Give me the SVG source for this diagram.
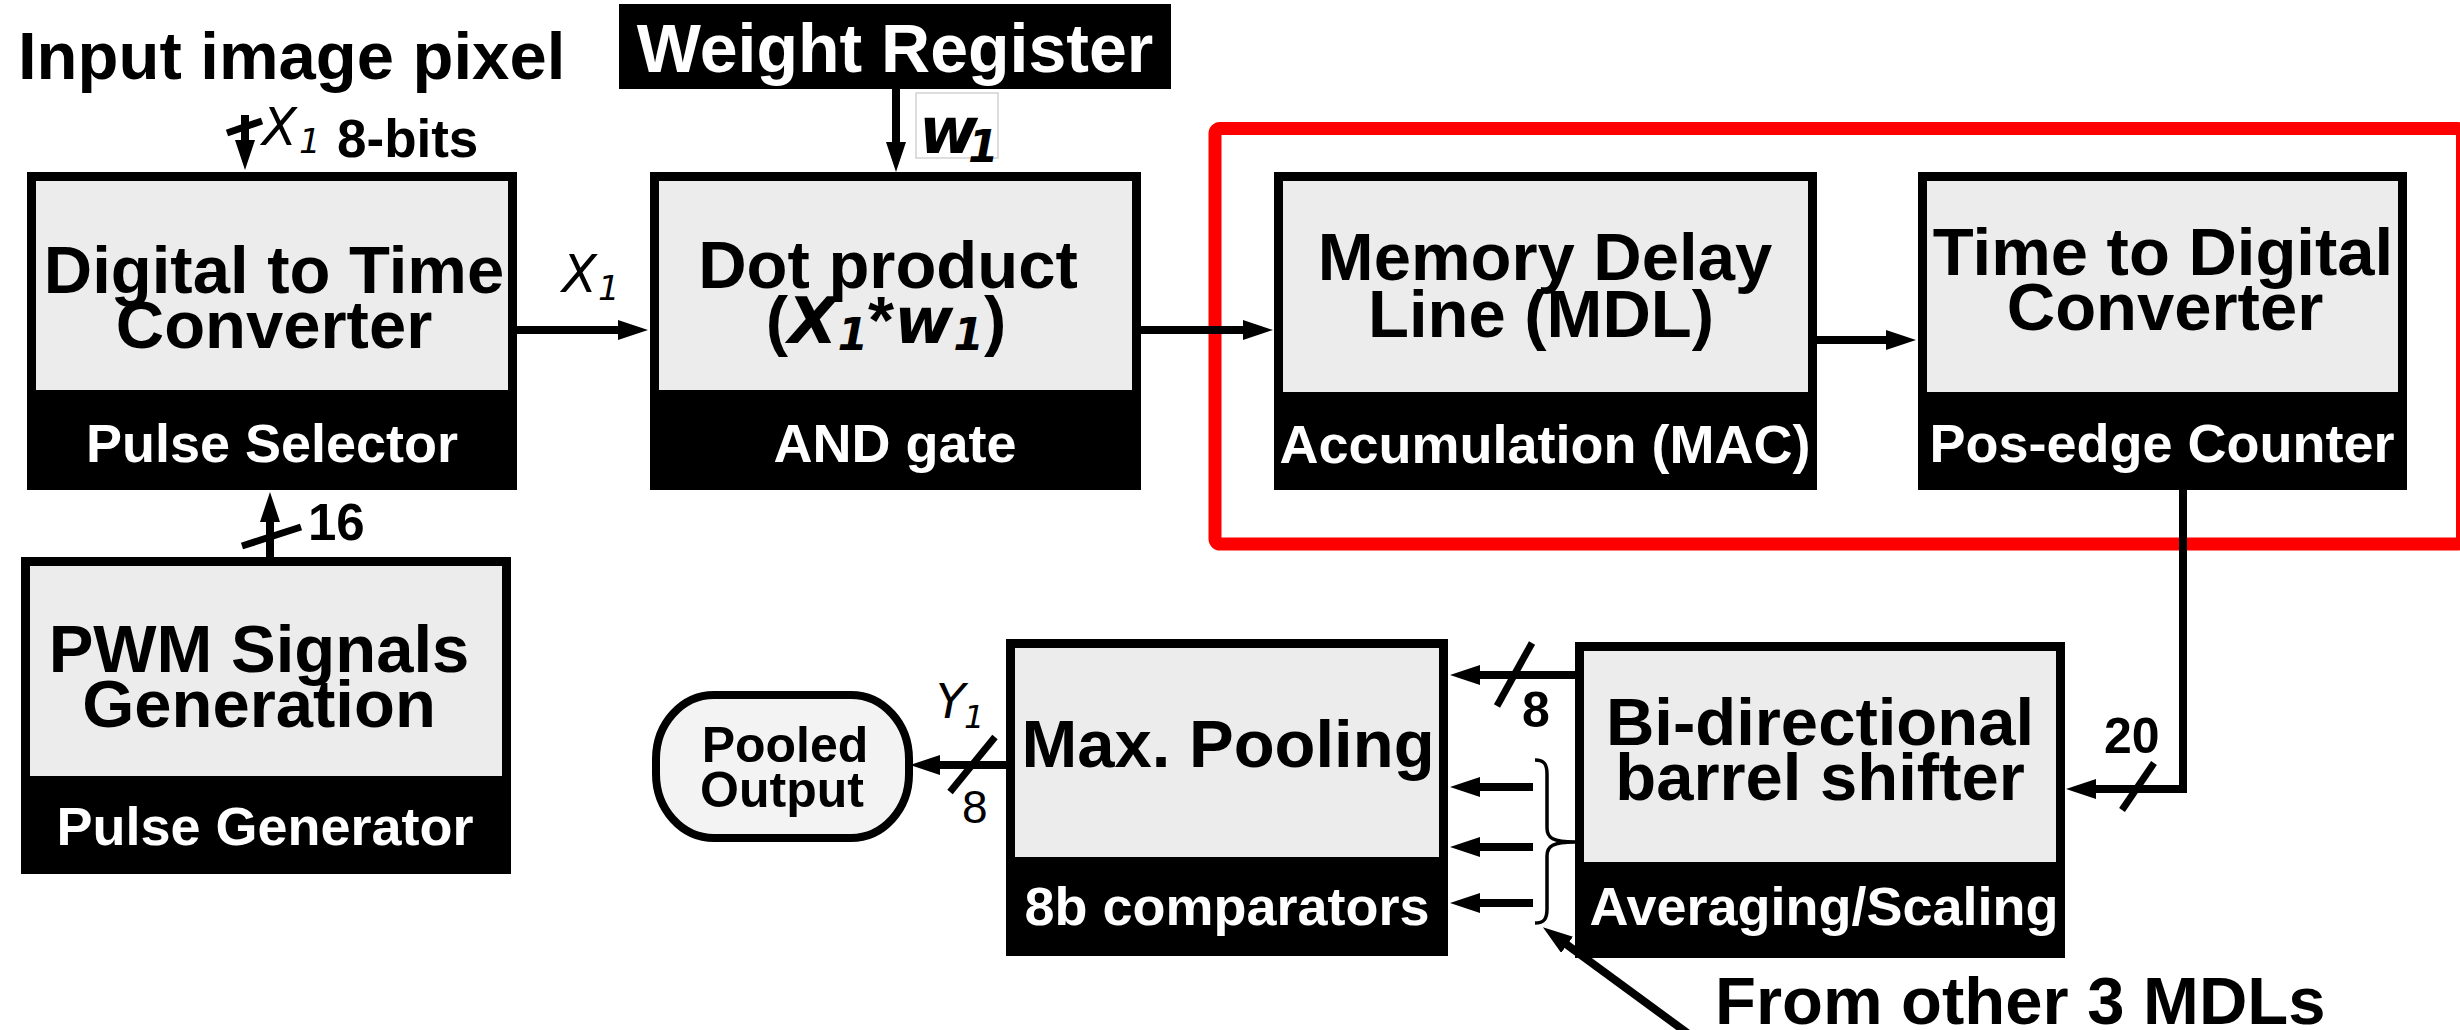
<svg xmlns="http://www.w3.org/2000/svg" width="2460" height="1030" viewBox="0 0 2460 1030">
  <style>
    .lbl { font-family: "Liberation Sans", Arial, sans-serif; font-weight: bold; }
    .c { text-anchor: middle; }
    .title { font-size: 67px; fill: #000; }
    .band { font-size: 54px; fill: #fff; }
    .var { font-family: "DejaVu Sans", sans-serif; font-style: oblique; }
    .frame { fill: #000; }
    .face { fill: #ececec; }
    .wire { stroke: #000; stroke-width: 8; fill: none; stroke-linejoin: miter; }
    .slash { stroke: #000; stroke-width: 7; fill: none; }
  </style>
  <defs>
    <marker id="ah" markerUnits="userSpaceOnUse" markerWidth="30" markerHeight="20" refX="15" refY="10" orient="auto" viewBox="0 0 30 20">
      <path d="M0,0 L30,10 L0,20 Z" fill="#000"/>
    </marker>
  </defs>
  <rect width="2460" height="1030" fill="#fff"/>

  <!-- free labels -->
  <text class="lbl title" x="18" y="79">Input image pixel</text>
  <text class="var" x="262" y="145" font-size="51">X</text>
  <text class="var" x="299" y="153" font-size="34">1</text>
  <text class="lbl" x="337" y="157" font-size="53">8-bits</text>
  <text class="var" x="562" y="292" font-size="51">X</text>
  <text class="var" x="598" y="300" font-size="34">1</text>
  <rect x="916" y="93" width="82" height="65" fill="none" stroke="#d2d2d2" stroke-width="1.5"/>
  <text class="var" x="919" y="153" font-size="64" font-weight="bold">w</text>
  <text class="var" x="968" y="162" font-size="44" font-weight="bold">1</text>
  <text class="lbl" x="308" y="540" font-size="51">16</text>
  <text class="lbl" x="2104" y="753" font-size="50">20</text>
  <text class="lbl" x="1522" y="727" font-size="50">8</text>
  <text class="var" x="936" y="718" font-size="48">Y</text>
  <text class="var" x="964" y="728" font-size="32">1</text>
  <text x="962" y="823" font-family="Liberation Sans, Arial, sans-serif" font-size="46">8</text>
  <text class="lbl title" x="1715" y="1024">From other 3 MDLs</text>

  <!-- accumulation stage outline -->
  <rect x="1215" y="128.5" width="1247.5" height="415.5" rx="5" fill="none" stroke="#ff0000" stroke-width="13"/>

  <g id="weight-register">
    <rect class="frame" x="619" y="4" width="552" height="85"/>
    <text class="lbl c" x="895" y="72" font-size="68" fill="#fff">Weight Register</text>
  </g>

  <g id="dtc">
    <rect class="frame" x="27" y="172" width="490" height="318"/>
    <rect class="face" x="36" y="181" width="472" height="209"/>
    <text class="lbl c title" x="274" y="293">Digital to Time</text>
    <text class="lbl c title" x="274" y="348">Converter</text>
    <text class="lbl c band" x="272" y="462">Pulse Selector</text>
  </g>

  <g id="dot-product">
    <rect class="frame" x="650" y="172" width="491" height="318"/>
    <rect class="face" x="659" y="181" width="473" height="209"/>
    <text class="lbl c title" x="888" y="288">Dot product</text>
    <text class="lbl c title" x="886" y="343">(<tspan class="var" font-size="64">X</tspan><tspan class="var" font-size="44" dy="7">1</tspan><tspan dy="-7">*</tspan><tspan class="var" font-size="64">w</tspan><tspan class="var" font-size="44" dy="7">1</tspan><tspan dy="-7">)</tspan></text>
    <text class="lbl c band" x="895" y="462">AND gate</text>
  </g>

  <g id="mdl">
    <rect class="frame" x="1274" y="172" width="543" height="318"/>
    <rect class="face" x="1283" y="181" width="525" height="211"/>
    <text class="lbl c title" x="1545" y="280">Memory Delay</text>
    <text class="lbl c title" x="1541" y="337">Line (MDL)</text>
    <text class="lbl c band" x="1545" y="463">Accumulation (MAC)</text>
  </g>

  <g id="tdc">
    <rect class="frame" x="1918" y="172" width="489" height="318"/>
    <rect class="face" x="1927" y="181" width="471" height="211"/>
    <text class="lbl c title" x="2163" y="275">Time to Digital</text>
    <text class="lbl c title" x="2165" y="330">Converter</text>
    <text class="lbl c band" x="2162" y="462">Pos-edge Counter</text>
  </g>

  <g id="pwm">
    <rect class="frame" x="21" y="557" width="490" height="317"/>
    <rect class="face" x="30" y="566" width="472" height="210"/>
    <text class="lbl c title" x="259" y="672">PWM Signals</text>
    <text class="lbl c title" x="259" y="727">Generation</text>
    <text class="lbl c band" x="265" y="845">Pulse Generator</text>
  </g>

  <g id="max-pooling">
    <rect class="frame" x="1006" y="639" width="442" height="317"/>
    <rect class="face" x="1015" y="648" width="424" height="209"/>
    <text class="lbl c title" x="1228" y="767">Max. Pooling</text>
    <text class="lbl c band" x="1227" y="925">8b comparators</text>
  </g>

  <g id="barrel-shifter">
    <rect class="frame" x="1575" y="642" width="490" height="316"/>
    <rect class="face" x="1584" y="651" width="472" height="211"/>
    <text class="lbl c title" x="1820" y="745">Bi-directional</text>
    <text class="lbl c title" x="1820" y="800">barrel shifter</text>
    <text class="lbl c band" x="1824" y="925">Averaging/Scaling</text>
  </g>

  <g id="pooled-output">
    <rect x="656" y="695" width="253" height="143" rx="58" ry="64" fill="#f3f3f3" stroke="#000" stroke-width="8"/>
    <text class="lbl c" x="785" y="762" font-size="50">Pooled</text>
    <text class="lbl c" x="782" y="807" font-size="50">Output</text>
  </g>

  <g id="connectors">
    <path class="wire" d="M245,115 V155" marker-end="url(#ah)"/>
    <line class="slash" x1="227" y1="133" x2="262" y2="121"/>
    <path class="wire" d="M270,557 V507" marker-end="url(#ah)"/>
    <line class="slash" x1="242" y1="546" x2="301" y2="527"/>
    <path class="wire" d="M517,330 H633" marker-end="url(#ah)"/>
    <path class="wire" d="M896,89 V157" stroke-width="7" marker-end="url(#ah)"/>
    <path class="wire" d="M1141,330 H1258" marker-end="url(#ah)"/>
    <path class="wire" d="M1817,340 H1901" marker-end="url(#ah)"/>
    <path class="wire" d="M2183,490 V789 H2081" marker-end="url(#ah)"/>
    <line class="slash" x1="2122" y1="810" x2="2154" y2="763"/>
    <path class="wire" d="M1575,675 H1465" marker-end="url(#ah)"/>
    <line class="slash" x1="1497" y1="706" x2="1532" y2="643"/>
    <path class="wire" d="M1533,787 H1465" marker-end="url(#ah)"/>
    <path class="wire" d="M1533,847 H1465" marker-end="url(#ah)"/>
    <path class="wire" d="M1533,903 H1465" marker-end="url(#ah)"/>
    <path d="M1535,760 C1544,760 1547,764 1547,774 L1547,828 C1547,838 1553,842 1575,842 C1553,842 1547,846 1547,856 L1547,909 C1547,919 1544,923 1535,923" fill="none" stroke="#000" stroke-width="3.5"/>
    <path class="wire" d="M1006,765 H925" marker-end="url(#ah)"/>
    <line class="slash" x1="950" y1="792" x2="995" y2="737" stroke-width="5"/>
    <path class="wire" d="M1690,1035 L1555,936" stroke-width="7" marker-end="url(#ah)"/>
  </g>
</svg>
